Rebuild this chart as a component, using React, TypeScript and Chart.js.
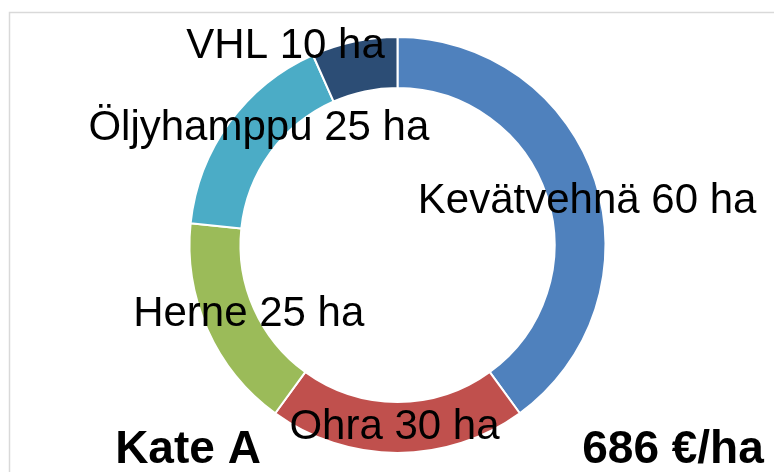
import React, { useEffect, useRef } from "react";
import { Chart, registerables } from "chart.js";

Chart.register(...registerables);

const crops = ["Kevätvehnä", "Ohra", "Herne", "Öljyhamppu", "VHL"];
const hectares = [60, 30, 25, 25, 10];
const unit = "ha";
const titleLeft = "Kate A";
const titleRight = "686 €/ha";

const colors = ["#4F81BD", "#C0504D", "#9BBB59", "#4BACC6", "#2C4D75"];
// label nudges from the arc centroid (dx, dy to text baseline)
const labelNudges: [number, number][] = [
  [16, 24],
  [-3, 11],
  [18, 7],
  [9, 2],
  [-74, -8],
];

const FONT = "'Liberation Sans', Arial, sans-serif";

const framePlugin = {
  id: "frame",
  beforeDraw(chart: any) {
    const ctx = chart.ctx;
    ctx.save();
    ctx.strokeStyle = "#D9D9D9";
    ctx.lineWidth = 1.5;
    ctx.strokeRect(9.5, 12.5, 900, 600);
    ctx.restore();
  },
};

const labelPlugin = {
  id: "sliceLabels",
  afterDatasetsDraw(chart: any) {
    const ctx = chart.ctx;
    const meta = chart.getDatasetMeta(0);
    ctx.save();
    ctx.fillStyle = "#000";
    ctx.font = `42px ${FONT}`;
    ctx.textAlign = "center";
    ctx.textBaseline = "alphabetic";
    meta.data.forEach((arc: any, i: number) => {
      const p = arc.getProps(["x", "y", "startAngle", "endAngle", "innerRadius", "outerRadius"], true);
      const mid = (p.startAngle + p.endAngle) / 2;
      const r = (p.innerRadius + p.outerRadius) / 2;
      const cx = p.x + Math.cos(mid) * r;
      const cy = p.y + Math.sin(mid) * r;
      const [dx, dy] = labelNudges[i];
      ctx.fillText(`${crops[i]} ${hectares[i]} ${unit}`, cx + dx, cy + dy);
    });
    ctx.font = `bold 46px ${FONT}`;
    ctx.textAlign = "center";
    ctx.fillText(titleLeft, 188, 463);
    ctx.fillText(titleRight, 673, 463);
    ctx.restore();
  },
};

export default function App() {
  const ref = useRef<HTMLCanvasElement>(null);
  useEffect(() => {
    document.body.style.margin = "0";
    const chart = new Chart(ref.current!, {
      type: "doughnut",
      data: {
        labels: crops,
        datasets: [
          {
            data: hectares,
            backgroundColor: colors,
            borderColor: "#FFFFFF",
            borderWidth: 2,
            hoverBorderWidth: 2,
          },
        ],
      },
      options: {
        animation: false,
        responsive: false,
        cutout: "75.5%",
        layout: { padding: { top: 36, bottom: 18, left: 188, right: 167 } },
        plugins: {
          legend: { display: false },
          tooltip: { enabled: false },
        },
      },
      plugins: [framePlugin, labelPlugin],
    });
    return () => chart.destroy();
  }, []);
  return (
    <div style={{ position: "absolute", left: 0, top: 0, width: 774, height: 472, background: "#fff" }}>
      <canvas ref={ref} width={774} height={472} style={{ width: 774, height: 472 }} />
    </div>
  );
}
